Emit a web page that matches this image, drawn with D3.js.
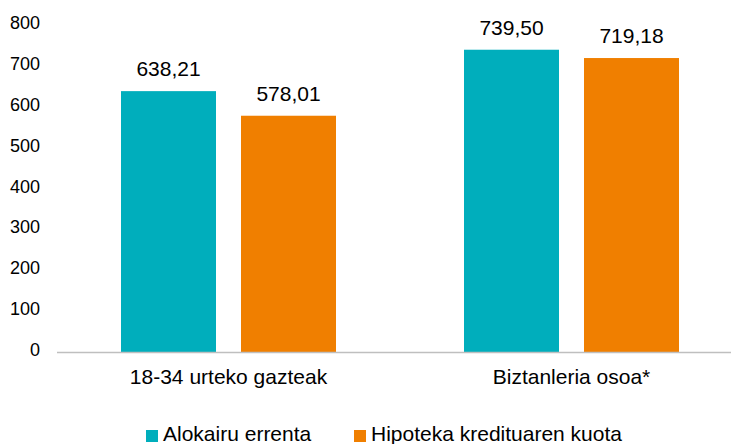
<!DOCTYPE html>
<html>
<head>
<meta charset="utf-8">
<script src="https://d3js.org/d3.v7.min.js"></script>
<style>
  body { margin: 0; background: #fff; }
  text { font-family: "Liberation Sans", Arial, sans-serif; fill: #000; }
</style>
</head>
<body>
<div id="chart"></div>
<script>
// data
var categories = ["18-34 urteko gazteak", "Biztanleria osoa*"];
var seriesNames = ["Alokairu errenta", "Hipoteka kredituaren kuota"];
var rent = [638.21, 739.50];
var mortgage = [578.01, 719.18];
var yTicks = [0, 100, 200, 300, 400, 500, 600, 700, 800];
var colors = ["#00AEBC", "#F07F00"];

var width = 731, height = 444;
var margin = {top: 25, right: -12, bottom: 92, left: 57};

var svg = d3.select("#chart").append("svg")
    .attr("width", width)
    .attr("height", height);

var y = d3.scaleLinear()
    .domain([0, 800])
    .range([height - margin.bottom, margin.top]);

var x0 = d3.scaleBand()
    .domain(categories)
    .range([margin.left, width - margin.right])
    .paddingInner(0)
    .paddingOuter(0);

// two bars of 95px with a 25px gap
var x1 = d3.scaleBand()
    .domain(seriesNames)
    .range([0, 215])
    .paddingInner(25 / 120);

var groupOffset = (x0.bandwidth() - 215) / 2;

// y axis labels, no line
svg.append("g")
    .attr("transform", "translate(40,0)")
    .call(d3.axisLeft(y).tickValues(yTicks).tickSize(0).tickPadding(0).tickFormat(d3.format("d")))
    .call(function(g) { g.select(".domain").remove(); })
    .attr("font-size", null)
    .attr("font-family", null)
    .selectAll("text")
    .attr("dy", "0.2em")
    .style("font-size", "18px");

var rows = categories.map(function(c, i) { return {cat: c, values: [rent[i], mortgage[i]]}; });

var groups = svg.selectAll(".grp")
    .data(rows)
    .enter().append("g")
    .attr("transform", function(d) { return "translate(" + (x0(d.cat) + groupOffset) + ",0)"; });

groups.selectAll("rect")
    .data(function(d) { return d.values.map(function(v, j) { return {name: seriesNames[j], value: v, j: j}; }); })
    .enter().append("rect")
    .attr("x", function(d) { return x1(d.name); })
    .attr("y", function(d) { return y(d.value); })
    .attr("width", x1.bandwidth())
    .attr("height", function(d) { return y(0) - y(d.value); })
    .attr("fill", function(d) { return colors[d.j]; });

groups.selectAll(".lbl")
    .data(function(d) { return d.values.map(function(v, j) { return {name: seriesNames[j], value: v}; }); })
    .enter().append("text")
    .attr("x", function(d) { return x1(d.name) + x1.bandwidth() / 2; })
    .attr("y", function(d) { return y(d.value) - 15; })
    .attr("text-anchor", "middle")
    .style("font-size", "21px")
    .text(function(d) { return d3.format(".2f")(d.value).replace(".", ","); });

// x axis baseline
svg.append("line")
    .attr("x1", margin.left)
    .attr("x2", width)
    .attr("y1", y(0) + 0.5)
    .attr("y2", y(0) + 0.5)
    .attr("stroke", "#BFBFBF")
    .attr("stroke-width", 1.5);

svg.selectAll(".cat")
    .data(categories)
    .enter().append("text")
    .attr("x", function(d) { return x0(d) + x0.bandwidth() / 2; })
    .attr("y", y(0) + 32)
    .attr("text-anchor", "middle")
    .style("font-size", "21px")
    .text(function(d) { return d; });

// legend
var legendX = [146, 354];
var legend = svg.selectAll(".leg")
    .data(seriesNames)
    .enter().append("g")
    .attr("transform", function(d, i) { return "translate(" + legendX[i] + ",430)"; });

legend.append("rect")
    .attr("width", 12)
    .attr("height", 12)
    .attr("fill", function(d, i) { return colors[i]; });

legend.append("text")
    .attr("x", 17)
    .attr("y", 11)
    .style("font-size", "21px")
    .text(function(d) { return d; });
</script>
</body>
</html>
